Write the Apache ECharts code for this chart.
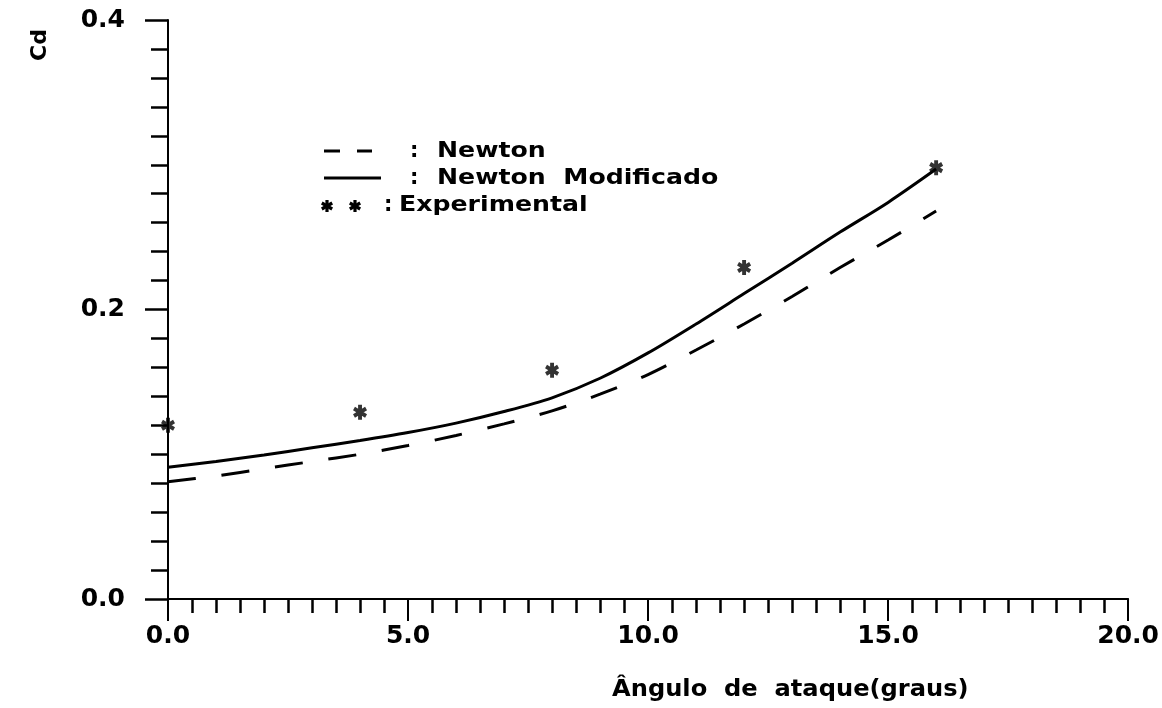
<!DOCTYPE html>
<html>
<head>
<meta charset="utf-8">
<script src="https://cdn.jsdelivr.net/npm/echarts@6/dist/echarts.min.js"></script>
<style>
html,body{margin:0;padding:0;background:#fff;}
#c{width:1162px;height:708px;}
</style>
</head>
<body>
<div id="c"></div>
<script>
// ---- data ----
const angles = [0,1,2,3,4,5,6,7,8,9,10,11,12,13,14,15,16];
const newtonCd = [0.081,0.085,0.090,0.095,0.100,0.106,0.113,0.121,0.130,0.1415,0.155,0.172,0.190,0.209,0.229,0.248,0.268];
const newtonModCd = [0.091,0.095,0.0995,0.1045,0.1095,0.115,0.1215,0.1295,0.139,0.1525,0.170,0.190,0.211,0.232,0.2535,0.274,0.297];
const expAngles = [0,4,8,12,16];
const expCd = [0.120,0.129,0.158,0.229,0.298];
const xTitle = 'Ângulo  de  ataque(graus)';
const yTitle = 'Cd';
const legendNames = ['Newton', 'Newton  Modificado', 'Experimental'];

// ---- star glyph ----
function starPolys(cx, cy, L, w) {
  const polys = [];
  [0, 60, 120].forEach(function (deg) {
    const t = deg * Math.PI / 180;
    const ux = Math.sin(t), uy = Math.cos(t);
    const px = Math.cos(t), py = -Math.sin(t);
    polys.push([
      [cx + L*ux + w*px, cy + L*uy + w*py],
      [cx + L*ux - w*px, cy + L*uy - w*py],
      [cx - L*ux - w*px, cy - L*uy - w*py],
      [cx - L*ux + w*px, cy - L*uy + w*py]
    ]);
  });
  return polys;
}
function starPath() {
  return 'path://' + starPolys(0, 0, 10, 2.8).map(function (p) {
    return 'M' + p.map(function (q) { return q[0].toFixed(2) + ',' + q[1].toFixed(2); }).join('L') + 'Z';
  }).join('');
}

const FONT = 'DejaVu Sans';
function txt(s, size, extra) {
  const o = {text: s, fontSize: size, fontFamily: FONT, fontWeight: 'bold', fill: '#000', align: 'left', verticalAlign: 'middle'};
  return Object.assign(o, extra || {});
}
const chart = echarts.init(document.getElementById('c'), null, {renderer: 'canvas'});

const legendGraphics = [];
// row 1: dashed
legendGraphics.push({type:'line', shape:{x1:324,y1:151,x2:340,y2:151}, style:{stroke:'#000', lineWidth:3}});
legendGraphics.push({type:'line', shape:{x1:357,y1:151,x2:372,y2:151}, style:{stroke:'#000', lineWidth:3}});
// row 2: solid
legendGraphics.push({type:'line', shape:{x1:324,y1:178,x2:381,y2:178}, style:{stroke:'#000', lineWidth:3}});
// row 3: stars
[327, 355].forEach(function (sx) {
  starPolys(sx, 206, 6, 1.6).forEach(function (p) {
    legendGraphics.push({type:'polygon', shape:{points:p}, style:{fill:'#000'}});
  });
});
const legendRows = [
  {colonX: 410, textX: 437, y: 152, name: legendNames[0]},
  {colonX: 410, textX: 437, y: 179, name: legendNames[1]},
  {colonX: 384, textX: 399, y: 206, name: legendNames[2]}
];
legendRows.forEach(function (r) {
  legendGraphics.push({type:'text', x:r.colonX, y:r.y, style: txt(':', 21)});
  legendGraphics.push({type:'text', x:r.textX, y:r.y, scaleX:1.2, style: txt(r.name, 21)});
});

chart.setOption({
  animation: false,
  backgroundColor: '#fff',
  grid: {left: 168, right: 32, top: 20, bottom: 109, containLabel: false},
  xAxis: {
    type: 'value', min: 0, max: 20, interval: 5,
    axisLine: {show: true, onZero: false, lineStyle: {color: '#000', width: 2}},
    axisTick: {show: true, length: 22, lineStyle: {color: '#000', width: 2}},
    minorTick: {show: true, splitNumber: 10, length: 14, lineStyle: {color: '#000', width: 2.5}},
    splitLine: {show: false},
    axisLabel: {margin: 25, fontFamily: FONT, fontWeight: 'bold', fontSize: 25, color: '#000',
      formatter: function (v) { return v.toFixed(1); }}
  },
  yAxis: {
    type: 'value', min: 0, max: 0.4, interval: 0.2,
    axisLine: {show: true, onZero: false, lineStyle: {color: '#000', width: 2}},
    axisTick: {show: true, length: 23, lineStyle: {color: '#000', width: 2.5}},
    minorTick: {show: true, splitNumber: 10, length: 17, lineStyle: {color: '#000', width: 2.5}},
    splitLine: {show: false},
    axisLabel: {margin: 43, fontFamily: FONT, fontWeight: 'bold', fontSize: 25, color: '#000',
      formatter: function (v) { return v.toFixed(1); }}
  },
  graphic: [
    {type:'text', x:612, y:690, scaleX:1.05, style: txt(xTitle, 23)},
    {type:'text', x:40, y:45, rotation:Math.PI/2, style: txt(yTitle, 22, {align:'center'})}
  ].concat(legendGraphics),
  series: [
    {
      name: legendNames[0], type: 'line', smooth: 0.3, showSymbol: false,
      data: angles.map(function (a, i) { return [a, newtonCd[i]]; }),
      lineStyle: {color: '#000', width: 3, type: [28, 26]}
    },
    {
      name: legendNames[1], type: 'line', smooth: 0.3, showSymbol: false,
      data: angles.map(function (a, i) { return [a, newtonModCd[i]]; }),
      lineStyle: {color: '#000', width: 3}
    },
    {
      name: legendNames[2], type: 'scatter', symbol: starPath(), symbolSize: [14, 15],
      data: expAngles.map(function (a, i) { return [a, expCd[i]]; }),
      itemStyle: {color: '#000'}
    }
  ]
});
</script>
</body>
</html>
